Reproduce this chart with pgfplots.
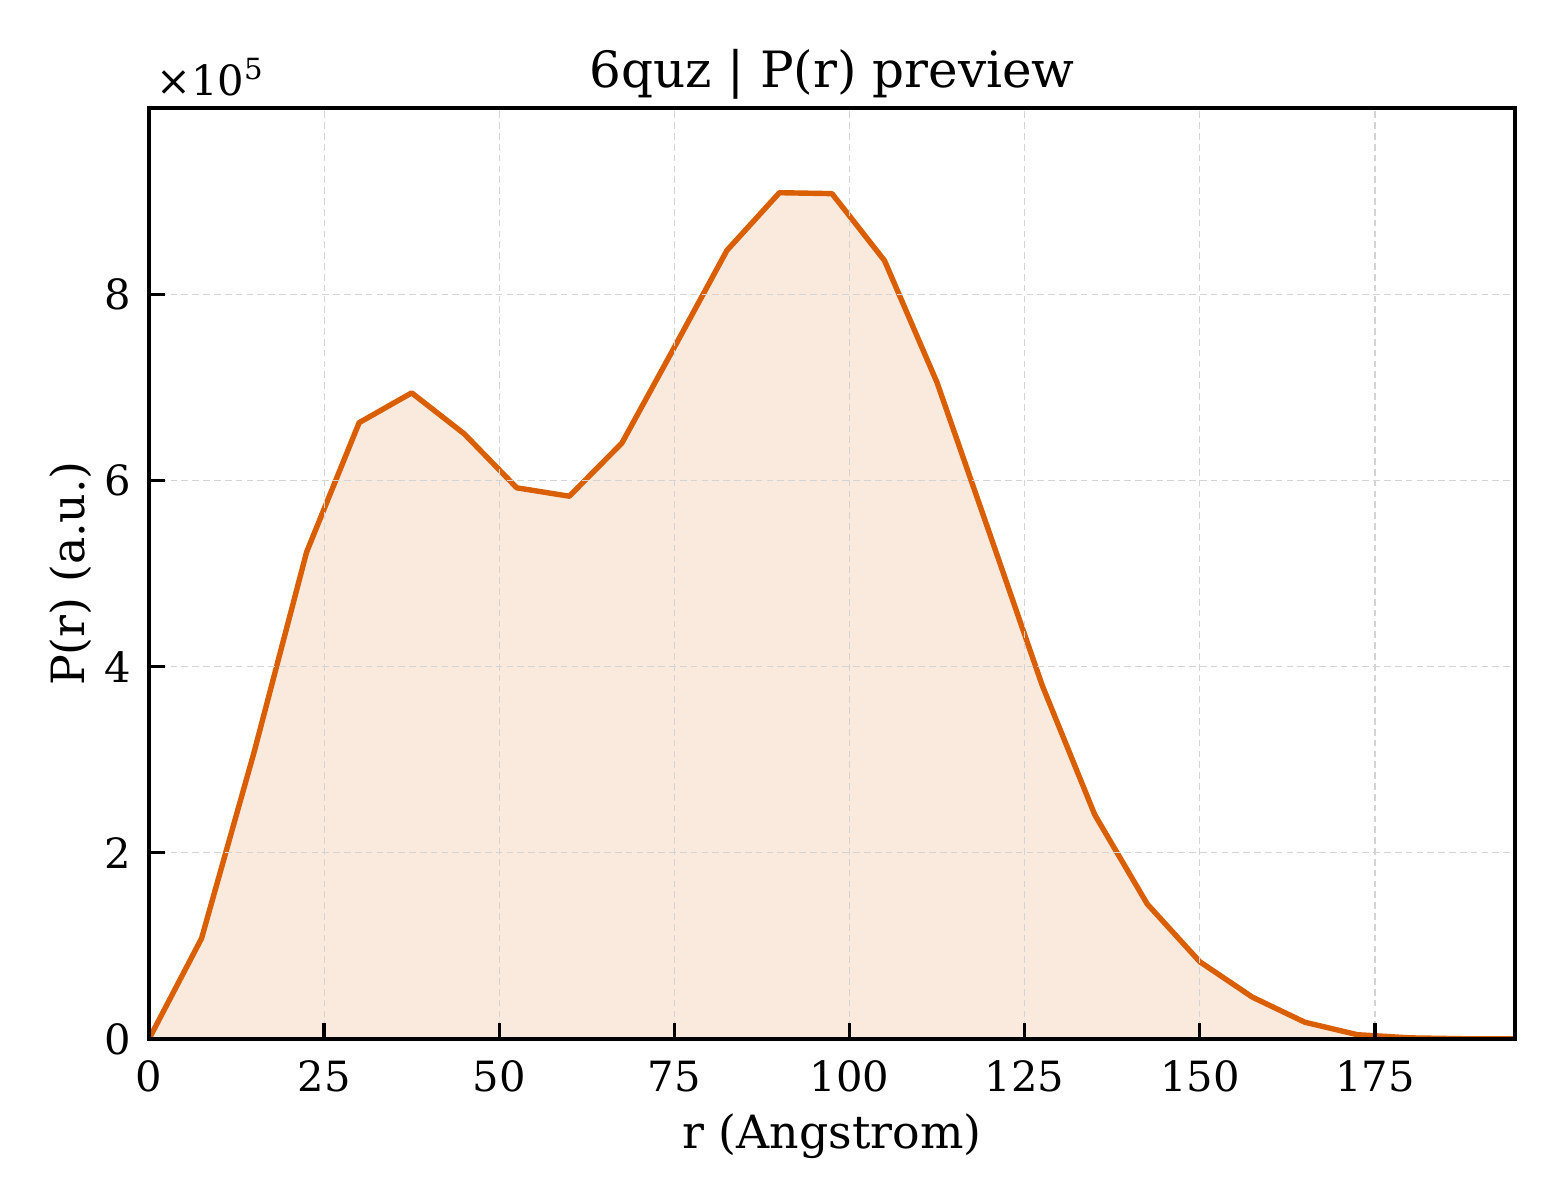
\documentclass[border=0pt]{standalone}
\usepackage{fontspec}
\setmainfont{DejaVu Serif}
\usepackage{pgfplots}
\pgfplotsset{compat=1.18}

\definecolor{prline}{HTML}{D95F02}

\begin{document}
\begin{tikzpicture}
\begin{axis}[
  scale only axis,
  width=327.84pt,
  height=223.44pt,
  xmin=0, xmax=195,
  ymin=0, ymax=1000000,
  xtick={0,25,...,175},
  ytick={0,200000,400000,600000,800000},
  scaled y ticks=base 10:-5,
  ytick scale label code/.code={},
  /pgf/number format/assume math mode=true,
  tick align=inside,
  xtick pos=bottom,
  ytick pos=left,
  major tick length=3.8pt,
  tick style={black, line width=0.8pt},
  axis line style={black, line width=1pt},
  grid=major,
  grid style={dash pattern=on 1.6pt off 1pt, color=black!17, line width=0.3pt},
  axis on top,
  tick label style={font=\fontsize{10}{12}\selectfont, inner sep=0pt},
  xticklabel style={anchor=north, yshift=-5pt},
  yticklabel style={anchor=east, xshift=-4pt},
  title={6quz | P(r) preview},
  every axis title/.style={at={(rel axis cs:0.5,1)}, anchor=base, yshift=5pt, inner sep=0pt,
    font=\fontsize{12}{14}\selectfont},
  xlabel={r (Angstrom)},
  every axis x label/.style={at={(rel axis cs:0.5,0)}, anchor=base, yshift=-26.3pt,
    inner sep=0pt, font=\fontsize{11}{13}\selectfont},
  ylabel={P(r) (a.u.)},
  every axis y label/.style={at={(rel axis cs:0,0.5)}, xshift=-15.4pt, rotate=90,
    anchor=base, inner sep=0pt, font=\fontsize{11}{13}\selectfont},
]
% filled area under P(r)
\addplot[draw=none, fill=prline, fill opacity=0.13] coordinates {
(0,0) (7.5,108000) (15,308000) (22.5,523000) (30,662000) (37.5,694000)
(45,650000) (52.5,592000) (60,583000) (67.5,640000) (75,743000) (82.5,847000)
(90,909000) (97.5,908000) (105,836000) (112.5,705000) (120,543000) (127.5,380000)
(135,241000) (142.5,145000) (150,83000) (157.5,45000) (165,18000) (172.5,4600)
(180,1200) (187.5,300) (195,100)
} \closedcycle;
% P(r) curve
\addplot[prline, line width=1.3pt, line join=round, mark=none] coordinates {
(0,0) (7.5,108000) (15,308000) (22.5,523000) (30,662000) (37.5,694000)
(45,650000) (52.5,592000) (60,583000) (67.5,640000) (75,743000) (82.5,847000)
(90,909000) (97.5,908000) (105,836000) (112.5,705000) (120,543000) (127.5,380000)
(135,241000) (142.5,145000) (150,83000) (157.5,45000) (165,18000) (172.5,4600)
(180,1200) (187.5,300) (195,100)
};
\end{axis}
% offset text of the y axis
\node[anchor=base west, inner sep=0pt, font=\fontsize{10}{12}\selectfont]
  at ([xshift=1.5pt, yshift=3.1pt]current axis.north west) {×10\textsuperscript{5}};
\pgfresetboundingbox
\useasboundingbox ([shift={(-35.76pt,-38.64pt)}]current axis.south west)
  rectangle ([shift={(10.8pt,25.92pt)}]current axis.north east);
\end{tikzpicture}
\end{document}
